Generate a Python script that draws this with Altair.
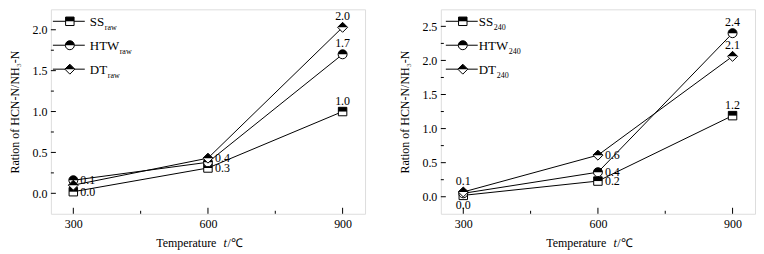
import altair as alt
import pandas as pd

# ---------------- data ----------------
temps = [300, 600, 900]

series_names = ["SS", "HTW", "DT"]
ss_raw = [0.02, 0.31, 1.00]
htw_raw = [0.16, 0.38, 1.70]
dt_raw = [0.10, 0.43, 2.03]

ss_240 = [0.02, 0.23, 1.19]
htw_240 = [0.05, 0.36, 2.40]
dt_240 = [0.07, 0.61, 2.06]

# value labels: (series, temperature, text, placement)
labels_left = [
    ("HTW", 300, "0.1", "right"), ("SS", 300, "0.0", "right"),
    ("DT", 600, "0.4", "right"), ("SS", 600, "0.3", "right"),
    ("DT", 900, "2.0", "above"), ("HTW", 900, "1.7", "above"), ("SS", 900, "1.0", "above"),
]
labels_right = [
    ("DT", 300, "0.1", "above"), ("SS", 300, "0.0", "below"),
    ("DT", 600, "0.6", "right"), ("HTW", 600, "0.4", "right"), ("SS", 600, "0.2", "right"),
    ("HTW", 900, "2.4", "above"), ("DT", 900, "2.1", "above"), ("SS", 900, "1.2", "above"),
]

x_major = [300, 600, 900]
x_minor = [450, 750]
y_major_left = [0.0, 0.5, 1.0, 1.5, 2.0]
y_minor_left = [0.25, 0.75, 1.25, 1.75]
y_major_right = [0.0, 0.5, 1.0, 1.5, 2.0, 2.5]
y_minor_right = [0.25, 0.75, 1.25, 1.75, 2.25]

FONT = "Liberation Serif"
W, H = 315, 205

full_paths = ["M-1,-1L1,-1L1,1L-1,1Z", "M-1,0A1,1,0,0,1,1,0A1,1,0,0,1,-1,0Z", "M0,-1L1,0L0,1L-1,0Z"]
half_paths = ["M-1,-1L1,-1L1,0L-1,0Z", "M-1,0A1,1,0,0,1,1,0Z", "M0,-1L1,0L-1,0Z"]
sizes = [72, 81, 100]


def panel(vals, labels, ydom, ymaj, ymin, sub, leg):
    df = pd.DataFrame(
        [{"series": s, "temp": t, "value": v}
         for s, vs in zip(series_names, vals) for t, v in zip(temps, vs)]
    )
    lab = pd.DataFrame(labels, columns=["series", "temp", "text", "place"])
    lab = lab.merge(df, on=["series", "temp"])

    xs = alt.Scale(domain=[250, 950], nice=False, zero=False)
    ys = alt.Scale(domain=ydom, nice=False, zero=False)
    X = alt.X("temp:Q", scale=xs, axis=alt.Axis(values=x_major, ticks=False, domain=False, grid=False,
                                                labelFont=FONT, labelFontSize=12, labelColor="black",
                                                labelPadding=5, title=None))
    Y = alt.Y("value:Q", scale=ys, axis=alt.Axis(values=ymaj, format=".1f", ticks=False, domain=False,
                                                 grid=False, labelFont=FONT, labelFontSize=12,
                                                 labelColor="black", labelPadding=4,
                                                 title="Ration of HCN-N/NH₃-N", titleFont=FONT,
                                                 titleFontSize=12, titleFontWeight="normal",
                                                 titleColor="black", titlePadding=10))

    base = alt.Chart(df)
    lines = base.mark_line(color="black", strokeWidth=1).encode(x=X, y=Y, detail="series:N")

    pts = []
    for i, s in enumerate(series_names):
        sb = base.transform_filter(alt.datum.series == s)
        pts.append(sb.mark_point(filled=True, fill="white", stroke="black", strokeWidth=1, opacity=1,
                                 shape=full_paths[i], size=sizes[i]).encode(x="temp:Q", y="value:Q"))
        pts.append(sb.mark_point(filled=True, fill="black", strokeWidth=0, opacity=1,
                                 shape=half_paths[i], size=sizes[i]).encode(x="temp:Q", y="value:Q"))

    lb = alt.Chart(lab)
    tkw = dict(font=FONT, fontSize=12, color="black")
    t_right = lb.transform_filter("datum.place == 'right'").mark_text(
        align="left", baseline="middle", dx=7, **tkw).encode(x="temp:Q", y="value:Q", text="text:N")
    t_above = lb.transform_filter("datum.place == 'above'").mark_text(
        align="center", baseline="middle", dy=-11, **tkw).encode(x="temp:Q", y="value:Q", text="text:N")
    t_below = lb.transform_filter("datum.place == 'below'").mark_text(
        align="center", baseline="middle", dy=10, **tkw).encode(x="temp:Q", y="value:Q", text="text:N")

    ymaj_df = pd.DataFrame({"value": ymaj})
    ymin_df = pd.DataFrame({"value": ymin})
    xmaj_df = pd.DataFrame({"temp": x_major})
    xmin_df = pd.DataFrame({"temp": x_minor})
    tick_y1 = alt.Chart(ymaj_df).mark_rule(color="black", strokeWidth=1).encode(
        y="value:Q", x=alt.value(0), x2=alt.value(5))
    tick_y2 = alt.Chart(ymin_df).mark_rule(color="black", strokeWidth=1).encode(
        y="value:Q", x=alt.value(0), x2=alt.value(3))
    tick_x1 = alt.Chart(xmaj_df).mark_rule(color="black", strokeWidth=1).encode(
        x="temp:Q", y=alt.value(H), y2=alt.value(H - 6))
    tick_x2 = alt.Chart(xmin_df).mark_rule(color="black", strokeWidth=1).encode(
        x="temp:Q", y=alt.value(H), y2=alt.value(H - 3))

    one = pd.DataFrame({"k": [0]})
    leg_layers = []
    lx0, lx1, mx, tx, subx = leg
    for i, s in enumerate(series_names):
        ry = 12 + 24 * i
        c = alt.Chart(one)
        leg_layers.append(c.mark_rule(color="black", strokeWidth=1).encode(
            x=alt.value(lx0), x2=alt.value(lx1), y=alt.value(ry)))
        leg_layers.append(c.mark_point(filled=True, fill="white", stroke="black", strokeWidth=1, opacity=1,
                                       shape=full_paths[i], size=sizes[i]).encode(
            x=alt.value(mx), y=alt.value(ry)))
        leg_layers.append(c.mark_point(filled=True, fill="black", strokeWidth=0, opacity=1,
                                       shape=half_paths[i], size=sizes[i]).encode(
            x=alt.value(mx), y=alt.value(ry)))
        leg_layers.append(c.mark_text(font=FONT, fontSize=13, color="black", align="left",
                                      baseline="alphabetic", text=s).encode(
            x=alt.value(tx), y=alt.value(ry + 5)))
        leg_layers.append(c.mark_text(font=FONT, fontSize=8, color="black", align="left",
                                      baseline="alphabetic", text=sub).encode(
            x=alt.value(tx + subx[i]), y=alt.value(ry + 9)))

    # x axis title
    c = alt.Chart(one)
    xt = [
        c.mark_text(font=FONT, fontSize=12, color="black", align="right", baseline="middle",
                    text="Temperature").encode(x=alt.value(166), y=alt.value(H + 29)),
        c.mark_text(font=FONT, fontSize=12, color="black", align="left", baseline="middle",
                    fontStyle="italic", text="t").encode(x=alt.value(173), y=alt.value(H + 29)),
        c.mark_text(font=FONT, fontSize=12, color="black", align="left", baseline="middle",
                    text="/℃").encode(x=alt.value(177), y=alt.value(H + 29)),
    ]

    return alt.layer(lines, tick_y1, tick_y2, tick_x1, tick_x2, *pts,
                     t_right, t_above, t_below, *leg_layers, *xt).properties(width=W, height=H)


left = panel([ss_raw, htw_raw, dt_raw], labels_left, [-0.25, 2.25], y_major_left, y_minor_left,
             "raw", (2, 34, 19, 39, [15, 30, 18]))
right = panel([ss_240, htw_240, dt_240], labels_right, [-0.25, 2.75], y_major_right, y_minor_right,
              "240", (5, 37, 22, 38, [15, 30, 18]))

chart = alt.hconcat(left, right, spacing=32).properties(
    padding={"left": 0, "top": 0, "right": 0, "bottom": 0}
).configure_view(stroke="black", strokeWidth=1).configure(background="white")

chart.save("out.html", embed_options={"renderer": "svg", "actions": False})
